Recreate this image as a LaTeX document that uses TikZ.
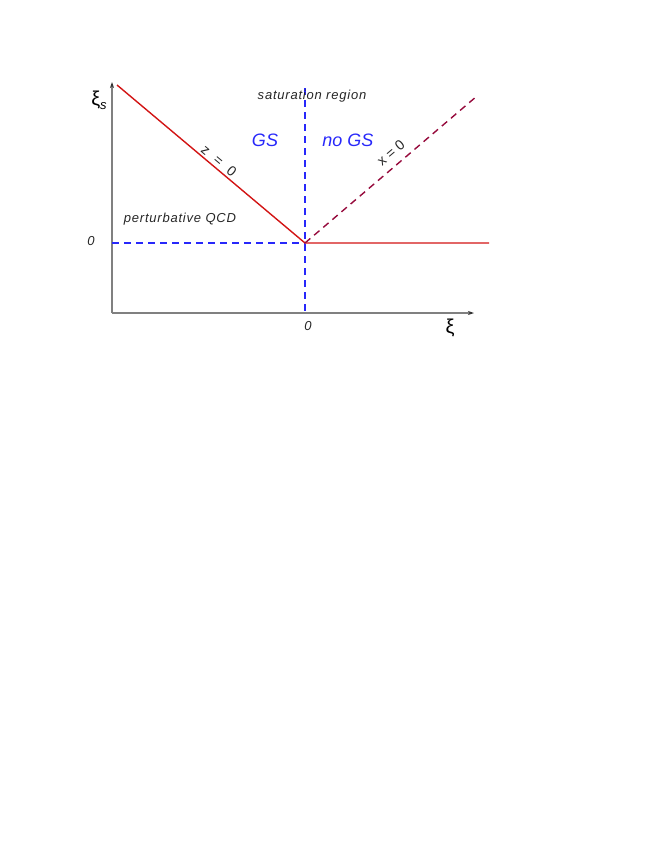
\documentclass[tikz,border=0pt]{standalone}
\usepackage{fontspec}
\setmainfont{Liberation Sans}
\usetikzlibrary{arrows.meta}
\definecolor{axisgray}{RGB}{128,128,128}
\definecolor{linered}{RGB}{210,20,20}
\definecolor{linepurple}{RGB}{150,10,60}
\definecolor{dashblue}{RGB}{40,40,250}
\tikzset{
  axisline/.style={draw=axisgray, line width=1.4pt, -{Stealth[length=6pt,width=4pt,color=black!80]}},
  redline/.style={draw=linered, line width=1.4pt},
  purpledash/.style={draw=linepurple, line width=1.4pt, dash pattern=on 7pt off 5pt},
  bluedash/.style={draw=dashblue, line width=1.2pt, dash pattern=on 7pt off 5pt},
  lab/.style={font=\fontsize{13}{15}\selectfont\itshape\addfontfeature{LetterSpace=6}, text=black!85, inner sep=0pt},
  uplab/.style={font=\fontsize{14}{16}\selectfont, text=black!85, inner sep=0pt},
  bigblue/.style={font=\fontsize{18}{20}\selectfont\itshape, text=dashblue, inner sep=0pt},
  greek/.style={font=\fontsize{20}{22}\selectfont, inner sep=0pt},
}
\begin{document}
\begin{tikzpicture}[x=1pt,y=-1pt]
\useasboundingbox (0,0) rectangle (654,846);
% coordinates
\coordinate (O) at (112,313);
\coordinate (ytip) at (112,82);
\coordinate (xtip) at (474,313);
\coordinate (C) at (305,243);
\coordinate (Ltop) at (117,85);
\coordinate (Rend) at (489,243);
\coordinate (Ptop) at (477,96);
\coordinate (Vtop) at (305,88);
\coordinate (Vbot) at (305,313);
\coordinate (Hleft) at (112,243);
% axes
\draw[axisline] (O) -- (ytip);
\draw[axisline] (O) -- (xtip);
% dashed blue
\draw[bluedash] (Vtop) -- (Vbot);
\draw[bluedash] (Hleft) -- (C);
% red lines
\draw[redline] (Ltop) -- (C) -- (Rend);
\draw[purpledash] (C) -- (Ptop);
% labels
\node[greek] (xis) at (99,100) {ξ\raisebox{-0.4ex}{\fontsize{13}{15}\selectfont\itshape s}};
\node[greek] (xi) at (450,328) {ξ};
\node[lab] (zy) at (91,241) {0};
\node[lab] (zx) at (308,326) {0};
\node[lab] (sat) at (312,96) {saturation region};
\node[lab] (pert) at (180,219) {perturbative QCD};
\node[bigblue] (gs) at (265,140) {GS};
\node[bigblue] (ngs) at (348,140) {no GS};
\node[uplab, rotate=-40] (z0) at (219,161) {z\hspace{9pt}=\hspace{9pt}0};
\node[uplab, rotate=40] (x0) at (391,153) {x\hspace{4pt}=\hspace{4pt}0};
\end{tikzpicture}
\end{document}
